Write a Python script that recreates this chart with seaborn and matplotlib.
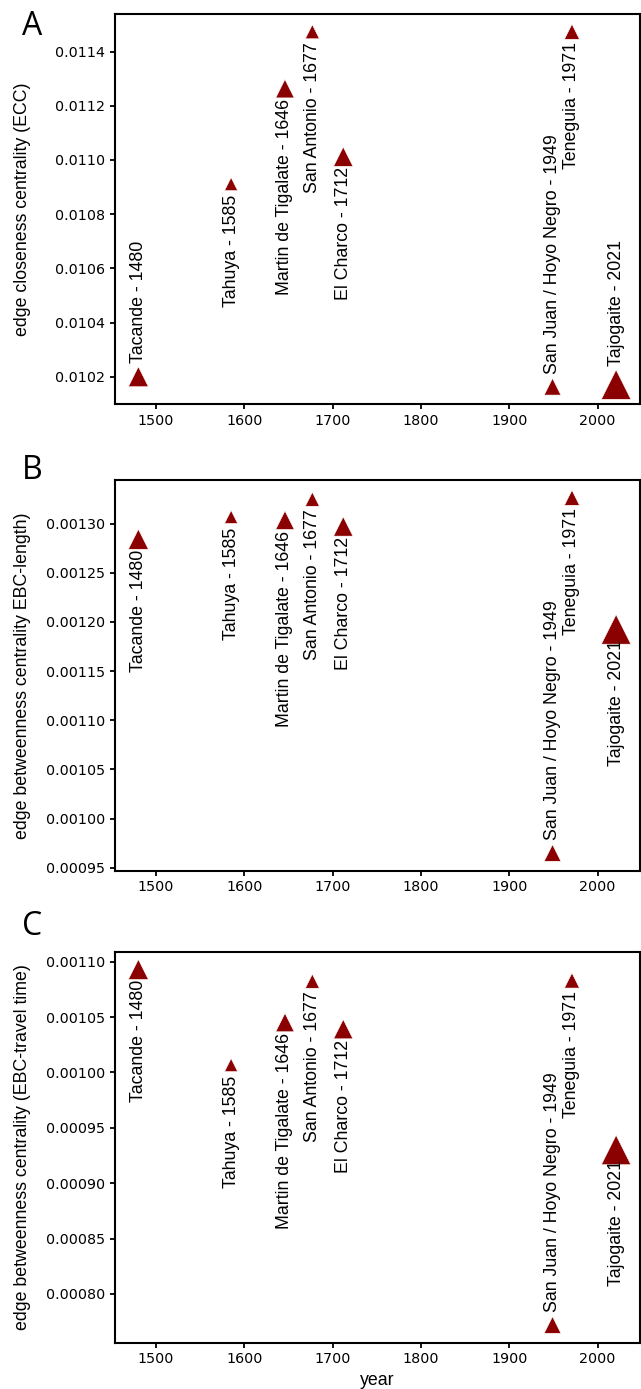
import numpy as np
import pandas as pd
import matplotlib
matplotlib.use("Agg")
import matplotlib.pyplot as plt
import seaborn as sns
from matplotlib.ticker import FormatStrFormatter

# ---------------- data ----------------
names = ["Tacande", "Tahuya", "Martin de Tigalate", "San Antonio", "El Charco",
         "San Juan / Hoyo Negro", "Teneguia", "Tajogaite"]
years = [1480, 1585, 1646, 1677, 1712, 1949, 1971, 2021]
ecc = [0.01020, 0.010911, 0.011263, 0.011473, 0.011012, 0.010163, 0.011473, 0.010171]
ebc_length = [0.001284, 0.0013067, 0.0013034, 0.0013247, 0.001297, 0.000965, 0.0013262, 0.0011923]
ebc_travel = [0.001093, 0.0010067, 0.0010451, 0.0010824, 0.0010391, 0.000772, 0.001083, 0.00093]
# relative eruption magnitude (shown as marker area)
magnitude = [207, 88, 177, 102, 193, 144, 117, 450]

yticks_a = [0.0102, 0.0104, 0.0106, 0.0108, 0.0110, 0.0112, 0.0114]
yticks_b = [0.00095, 0.00100, 0.00105, 0.00110, 0.00115, 0.00120, 0.00125, 0.00130]
yticks_c = [0.00080, 0.00085, 0.00090, 0.00095, 0.00100, 0.00105, 0.00110]
xticks = [1500, 1600, 1700, 1800, 1900, 2000]

panels = [
    ("A", "ecc", ecc, "edge closeness centrality (ECC)", yticks_a, "%.4f"),
    ("B", "ebc_length", ebc_length, "edge betweenness centrality EBC-length)", yticks_b, "%.5f"),
    ("C", "ebc_travel", ebc_travel, "edge betweenness centrality (EBC-travel time)", yticks_c, "%.5f"),
]

df = pd.DataFrame({
    "name": names, "year": years, "ecc": ecc, "ebc_length": ebc_length,
    "ebc_travel": ebc_travel, "magnitude": magnitude,
})

# ---------------- style ----------------
sns.set_style("ticks", {"axes.edgecolor": "black", "xtick.color": "black",
                        "ytick.color": "black", "axes.linewidth": 1.5,
                        "text.color": "black", "axes.labelcolor": "black"})
plt.rcParams["font.family"] = ["DejaVu Sans"]
plt.rcParams["xtick.labelsize"] = 10.3
plt.rcParams["ytick.labelsize"] = 10.3
plt.rcParams["xtick.major.width"] = 1.3
plt.rcParams["ytick.major.width"] = 1.3
plt.rcParams["text.color"] = "black"
plt.rcParams["axes.labelcolor"] = "black"

W, H = 641, 1389
fig = plt.figure(figsize=(W / 100, H / 100), dpi=100)

left = 114.5 / W
width = (640 - 114.5) / W
tops = [14, 480, 951.7]
heights = [390.5, 390.7, 391.0]
letter_base = [35, 479, 935]

label_font = ["Liberation Sans", "DejaVu Sans"]
marker_color = "#8b0000"
mmin, mmax = min(magnitude), max(magnitude)

for (letter, col, vals, ylab, yt, fmt), top, hgt, lb in zip(panels, tops, heights, letter_base):
    ax = fig.add_axes([left, 1 - (top + hgt) / H, width, hgt / H])
    sns.scatterplot(data=df, x="year", y=col, size="magnitude",
                    sizes=(mmin, mmax), size_norm=(mmin, mmax),
                    marker="^", color=marker_color, edgecolor="white",
                    linewidth=0.4, legend=False, ax=ax)
    for sp in ax.spines.values():
        sp.set_linewidth(1.5)
        sp.set_color("black")
    ax.set_xticks(xticks)
    ax.set_yticks(yt)
    ax.yaxis.set_major_formatter(FormatStrFormatter(fmt))
    ax.tick_params(colors="black", labelcolor="black")
    ax.margins(0.05)
    ax.set_ylabel(ylab, fontsize=12.8, family=label_font, color="black")
    ax.yaxis.set_label_coords(-0.159, 0.5)
    if letter == "C":
        ax.set_xlabel("year", fontsize=12.8, family=label_font, color="black")
    else:
        ax.set_xlabel("")

    vmin, vmax = min(vals), max(vals)
    for nm, yr, v, m in zip(names, years, vals, magnitude):
        half = np.sqrt(m) / 2.0
        label = f"{nm} - {yr}"
        if (v - vmin) / (vmax - vmin) < 0.25:
            ax.annotate(label, (yr, v), xytext=(0, half + 3), textcoords="offset points",
                        rotation=90, ha="center", va="bottom", color="black",
                        fontsize=12.8, family=label_font)
        else:
            ax.annotate(label, (yr, v), xytext=(0, -7.5), textcoords="offset points",
                        rotation=90, ha="center", va="top", color="black",
                        fontsize=12.8, family=label_font)

    fig.text(22 / W, 1 - lb / H, letter, fontsize=23, family=["Open Sans", "DejaVu Sans"],
             ha="left", va="baseline", color="black")

fig.savefig("out.png", dpi=100)
